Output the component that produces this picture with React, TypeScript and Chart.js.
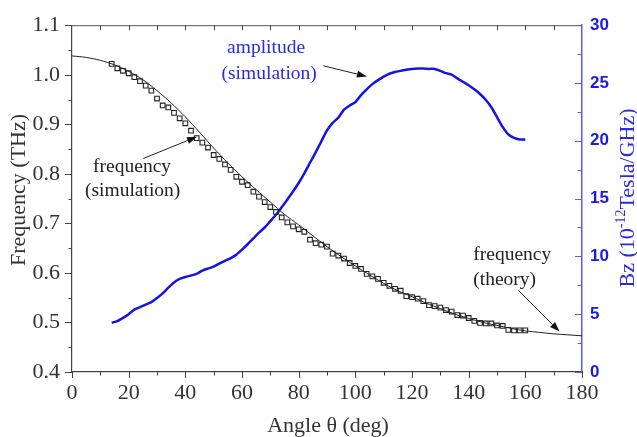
import React, { useEffect, useRef } from "react";
import { Chart, registerables } from "chart.js";
Chart.register(...registerables);

const simAngles = [14,16,18,20,22,24,26,28,30,32,34,36,38,40,42,44,46,48,50,52,54,56,58,60,62,64,66,68,70,72,74,76,78,80,82,84,86,88,90,92,94,96,98,100,102,104,106,108,110,112,114,116,118,120,122,124,126,128,130,132,134,136,138,140,142,144,146,148,150,152,154,156,158,160];
const simFrequency = [1.022,1.013,1.008,1.003,0.995,0.987,0.978,0.968,0.952,0.938,0.934,0.923,0.912,0.902,0.887,0.872,0.863,0.853,0.838,0.830,0.819,0.808,0.794,0.784,0.777,0.764,0.754,0.743,0.733,0.723,0.712,0.702,0.694,0.688,0.683,0.667,0.660,0.657,0.653,0.639,0.635,0.629,0.620,0.614,0.608,0.598,0.593,0.588,0.580,0.574,0.568,0.564,0.553,0.551,0.548,0.543,0.535,0.533,0.530,0.525,0.522,0.515,0.514,0.509,0.503,0.499,0.498,0.498,0.494,0.493,0.485,0.484,0.484,0.484];
const ampAngles = simAngles;
const ampBz = [4.26,4.40,4.68,5.00,5.40,5.62,5.83,6.05,6.40,6.80,7.30,7.75,8.05,8.22,8.35,8.48,8.78,8.95,9.12,9.38,9.62,9.85,10.15,10.58,11.05,11.55,12.05,12.50,13.05,13.60,14.25,14.92,15.62,16.35,17.18,18.10,19.00,19.95,20.90,21.55,22.00,22.70,23.05,23.35,23.95,24.45,24.90,25.25,25.55,25.80,25.95,26.05,26.15,26.22,26.25,26.25,26.22,26.22,26.05,25.85,25.72,25.40,25.10,24.80,24.45,24.05,23.55,22.90,22.05,21.20,20.55,20.25,20.12,20.10];
const theoryAngles = [0,5,10,15,20,25,30,35,40,45,50,55,60,65,70,75,80,85,90,95,100,105,110,115,120,125,130,135,140,145,150,155,160,165,170,175,180];
const theoryFrequency = [1.038,1.035,1.029,1.020,1.007,0.990,0.968,0.943,0.915,0.884,0.852,0.822,0.794,0.768,0.743,0.718,0.697,0.675,0.653,0.633,0.614,0.596,0.579,0.564,0.552,0.539,0.528,0.517,0.508,0.500,0.494,0.488,0.483,0.480,0.477,0.475,0.473];

const xTickMarks = [0,10,20,30,40,50,60,70,80,90,100,110,120,130,140,150,160,170,180];
const freqTickMarks = [0.4,0.45,0.5,0.55,0.6,0.65,0.7,0.75,0.8,0.85,0.9,0.95,1.0,1.05,1.1];
const bzTickMarks = [0,2.5,5,7.5,10,12.5,15,17.5,20,22.5,25,27.5,30];

const xTitle = "Angle \u03b8 (deg)";
const yTitle = "Frequency (THz)";
const y2TitleParts = ["Bz (10", "-12", "Tesla/GHz)"];

// annotations in data units (x: angle, y: frequency axis)
const notes = [
  { text: "frequency", x: 21.2, y: 0.815, color: "#222" },
  { text: "(simulation)", x: 21.4, y: 0.766, color: "#222" },
  { text: "amplitude", x: 68.5, y: 1.054, color: "#2a2ae6" },
  { text: "(simulation)", x: 69.6, y: 1.002, color: "#2a2ae6" },
  { text: "frequency", x: 155.4, y: 0.636, color: "#222" },
  { text: "(theory)", x: 152.7, y: 0.585, color: "#222" },
];
const arrows = [
  { x1: 25.2, y1: 0.831, x2: 44.1, y2: 0.875 },
  { x1: 88.7, y1: 1.018, x2: 104.1, y2: 0.9966 },
  { x1: 157.6, y1: 0.5645, x2: 172.1, y2: 0.4816 },
];

const SERIF = "'Liberation Serif', 'Times New Roman', serif";
const BLUE = "#1414e6";
const AXBLUE = "#5a5aee";

const decor = {
  id: "decor",
  afterDraw(chart: any) {
    const { ctx, chartArea: a, scales } = chart;
    const xs = scales.x, ys = scales.y, y2 = scales.y2;
    ctx.save();
    // top border
    ctx.strokeStyle = "#555";
    ctx.lineWidth = 1;
    ctx.beginPath();
    ctx.moveTo(a.left, a.top + 0.5);
    ctx.lineTo(a.right, a.top + 0.5);
    ctx.stroke();
    // x ticks bottom (outward) and top (inward)
    ctx.strokeStyle = "#444";
    xTickMarks.forEach((v) => {
      const px = Math.round(xs.getPixelForValue(v)) + 0.5;
      const len = v % 20 === 0 ? 6 : 3.5;
      ctx.beginPath();
      ctx.moveTo(px, a.bottom);
      ctx.lineTo(px, a.bottom + len);
      ctx.stroke();
      if (v > 0 && v < 180) {
        ctx.beginPath();
        ctx.moveTo(px, a.top);
        ctx.lineTo(px, a.top + 5);
        ctx.stroke();
      }
    });
    // left ticks (outward)
    freqTickMarks.forEach((v, i) => {
      const py = Math.round(ys.getPixelForValue(v)) + 0.5;
      const len = i % 2 === 0 ? 7 : 3.5;
      ctx.beginPath();
      ctx.moveTo(a.left - len, py);
      ctx.lineTo(a.left, py);
      ctx.stroke();
    });
    // right ticks (inward)
    ctx.strokeStyle = AXBLUE;
    bzTickMarks.forEach((v, i) => {
      const py = Math.round(y2.getPixelForValue(v)) + 0.5;
      const len = i % 2 === 0 ? 7 : 4.5;
      ctx.beginPath();
      ctx.moveTo(a.right - len, py);
      ctx.lineTo(a.right, py);
      ctx.stroke();
    });
    // titles
    ctx.fillStyle = "#333";
    ctx.font = `22px ${SERIF}`;
    ctx.textAlign = "center";
    ctx.textBaseline = "alphabetic";
    ctx.fillText(xTitle, (a.left + a.right) / 2 + 1, 432);
    ctx.save();
    ctx.translate(25, 190);
    ctx.rotate(-Math.PI / 2);
    ctx.fillText(yTitle, 0, 0);
    ctx.restore();
    // right title
    ctx.save();
    ctx.translate(634, 198);
    ctx.rotate(-Math.PI / 2);
    ctx.fillStyle = "#2a2ae6";
    ctx.textAlign = "left";
    const big = `22px ${SERIF}`, small = `14px ${SERIF}`;
    ctx.font = big; const w1 = ctx.measureText(y2TitleParts[0]).width;
    ctx.font = small; const w2 = ctx.measureText(y2TitleParts[1]).width;
    ctx.font = big; const w3 = ctx.measureText(y2TitleParts[2]).width;
    let sx = -(w1 + w2 + w3) / 2;
    ctx.font = big; ctx.fillText(y2TitleParts[0], sx, 0); sx += w1;
    ctx.font = small; ctx.fillText(y2TitleParts[1], sx, -9); sx += w2;
    ctx.font = big; ctx.fillText(y2TitleParts[2], sx, 0);
    ctx.restore();
    // annotations
    ctx.font = `19.5px ${SERIF}`;
    ctx.textAlign = "center";
    ctx.textBaseline = "middle";
    notes.forEach((n) => {
      ctx.fillStyle = n.color;
      ctx.fillText(n.text, xs.getPixelForValue(n.x), ys.getPixelForValue(n.y));
    });
    ctx.strokeStyle = "#222";
    ctx.fillStyle = "#111";
    ctx.lineWidth = 1;
    arrows.forEach((ar) => {
      const x1 = xs.getPixelForValue(ar.x1), y1 = ys.getPixelForValue(ar.y1);
      const x2 = xs.getPixelForValue(ar.x2), y2p = ys.getPixelForValue(ar.y2);
      const ang = Math.atan2(y2p - y1, x2 - x1);
      const hl = 10, hw = 3.5;
      const bx = x2 - hl * Math.cos(ang), by = y2p - hl * Math.sin(ang);
      ctx.beginPath();
      ctx.moveTo(x1, y1);
      ctx.lineTo(bx, by);
      ctx.stroke();
      ctx.beginPath();
      ctx.moveTo(x2, y2p);
      ctx.lineTo(bx + hw * Math.sin(ang), by - hw * Math.cos(ang));
      ctx.lineTo(bx - hw * Math.sin(ang), by + hw * Math.cos(ang));
      ctx.closePath();
      ctx.fill();
    });
    ctx.restore();
  },
};

export default function App() {
  const ref = useRef<HTMLCanvasElement | null>(null);
  useEffect(() => {
    if (!ref.current) return;
    const chart = new Chart(ref.current, {
      type: "line",
      data: {
        datasets: [
          {
            label: "theory",
            data: theoryAngles.map((x, i) => ({ x, y: theoryFrequency[i] })),
            borderColor: "#222",
            borderWidth: 1,
            pointRadius: 0,
            tension: 0.3,
            yAxisID: "y",
          },
          {
            label: "simulation",
            data: simAngles.map((x, i) => ({ x, y: simFrequency[i] })),
            showLine: false,
            pointStyle: "rect",
            pointRadius: 3.3,
            borderColor: "#222",
            backgroundColor: "rgba(0,0,0,0)",
            pointBorderWidth: 1.1,
            yAxisID: "y",
          },
          {
            label: "amplitude",
            data: ampAngles.map((x, i) => ({ x, y: ampBz[i] })),
            borderColor: BLUE,
            borderWidth: 2.5,
            pointRadius: 0,
            tension: 0.2,
            yAxisID: "y2",
          },
        ],
      },
      options: {
        responsive: false,
        animation: false,
        devicePixelRatio: 1,
        layout: { padding: { top: 20, left: 0, right: 0, bottom: 0 } },
        plugins: { legend: { display: false }, tooltip: { enabled: false } },
        scales: {
          x: {
            type: "linear",
            min: 0,
            max: 180,
            ticks: { stepSize: 20, color: "#333", font: { family: SERIF, size: 22 }, padding: 8, maxRotation: 0 },
            grid: { display: false, drawTicks: false },
            border: { display: true, color: "#444", width: 1.2 },
            afterFit: (s: any) => { s.height = 65; },
          },
          y: {
            type: "linear",
            position: "left",
            min: 0.4,
            max: 1.1,
            ticks: { stepSize: 0.1, color: "#333", font: { family: SERIF, size: 22 }, padding: 12, callback: (v: any) => Number(v).toFixed(1) },
            grid: { display: false, drawTicks: false },
            border: { display: true, color: "#444", width: 1.2 },
            afterFit: (s: any) => { s.width = 72; },
          },
          y2: {
            type: "linear",
            position: "right",
            min: 0,
            max: 30,
            ticks: { stepSize: 5, color: "#1a1ae0", font: { family: "'Liberation Sans', Arial, sans-serif", size: 17, weight: "bold" }, padding: 8 },
            grid: { display: false, drawTicks: false },
            border: { display: true, color: AXBLUE, width: 1.5 },
            afterFit: (s: any) => { s.width = 55; },
          },
        },
      },
      plugins: [decor],
    } as any);
    return () => chart.destroy();
  }, []);
  return (
    <div style={{ position: "fixed", left: 0, top: 0, width: 637, height: 437, background: "#fff" }}>
      <canvas ref={ref} width={637} height={437} />
    </div>
  );
}
